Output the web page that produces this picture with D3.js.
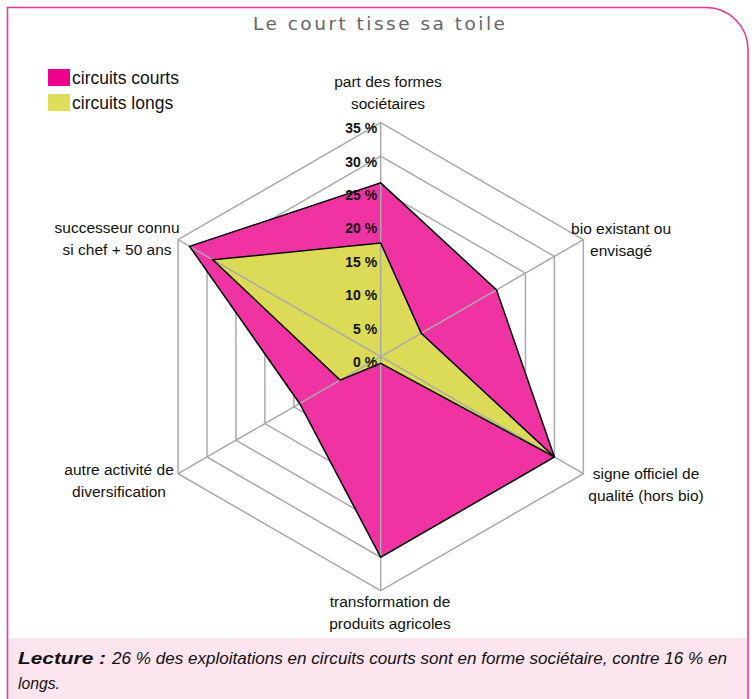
<!DOCTYPE html>
<html><head><meta charset="utf-8">
<script src="https://cdn.jsdelivr.net/npm/d3@7"></script>
<style>html,body{margin:0;padding:0;background:#fff;}svg{display:block;}</style>
</head><body>
<script>
// ---- data ----
const categories = [
  ["part des formes", "sociétaires"],
  ["bio existant ou", "envisagé"],
  ["signe officiel de", "qualité (hors bio)"],
  ["transformation de", "produits agricoles"],
  ["autre activité de", "diversification"],
  ["successeur connu", "si chef + 50 ans"]
];
const seriesNames = ["circuits courts", "circuits longs"];
const circuitsCourts = [26, 20, 30, 30, 14, 33];
const circuitsLongs  = [17, 7, 30, 1, 7, 29];
const tickValues = [0, 5, 10, 15, 20, 25, 30, 35];
const tickLabels = ["0 %", "5 %", "10 %", "15 %", "20 %", "25 %", "30 %", "35 %"];
const titleText = "Le court tisse sa toile";
const lectureBold = "Lecture :";
const lectureLine1 = "26 % des exploitations en circuits courts sont en forme sociétaire, contre 16 % en";
const lectureLine2 = "longs.";

// ---- layout ----
const W = 754, H = 699;
const cx = 380.7, cy = 356.7, R = 234;
const fillColors = ["#F033A3", "#DBDB58"];
const legendColors = ["#EC008C", "#DEDE5C"];
const labelOffsets = [[7.3,-35.4],[37.7,-5.7],[62.7,5.3],[9.3,16],[-59,1.3],[-61,-6.7]];

const svg = d3.select("body").append("svg").attr("width", W).attr("height", H);

// lecture background + frame
svg.append("rect").attr("x", 8.5).attr("y", 638).attr("width", 739).attr("height", 61).attr("fill", "#FCE5EF");
svg.append("path").attr("d", "M7.5,699 V7.5 H706 A42,42 0 0 1 748,49.5 V699")
  .attr("fill", "none").attr("stroke", "#E9359D").attr("stroke-width", 1.6);

// title
svg.append("text").attr("x", 379).attr("y", 30).attr("text-anchor", "middle")
  .attr("font-family", "DejaVu Sans, sans-serif").attr("font-size", 18.5).attr("fill", "#666")
  .attr("textLength", 252).attr("lengthAdjust", "spacing").text(titleText);

const r = d3.scaleLinear().domain([0, 35]).range([0, R]);
const n = categories.length;
const angle = i => i * 2 * Math.PI / n;
const pt = (i, v) => [cx + r(v) * Math.sin(angle(i)), cy - r(v) * Math.cos(angle(i))];
const line = d3.line();

// grid rings (under the fills)
const gRings = svg.append("g").attr("stroke", "#AAAAAA").attr("stroke-width", 1.5).attr("fill", "none");
tickValues.filter(t => t > 0).forEach(t => {
  gRings.append("path").attr("d", line(d3.range(n).map(i => pt(i, t))) + "Z");
});

// fills
const gPoly = svg.append("g");
[circuitsCourts, circuitsLongs].forEach((vals, s) => {
  gPoly.append("path").attr("d", line(vals.map((v, i) => pt(i, v))) + "Z")
    .attr("fill", fillColors[s]).attr("stroke", "none");
});

// spokes (over the fills)
const gSpokes = svg.append("g").attr("stroke", "#AAAAAA").attr("stroke-width", 1.5);
d3.range(n).forEach(i => {
  const [x, y] = pt(i, 35);
  gSpokes.append("line").attr("x1", cx).attr("y1", cy).attr("x2", x).attr("y2", y);
});

// outlines
[circuitsCourts, circuitsLongs].forEach((vals) => {
  svg.append("path").attr("d", line(vals.map((v, i) => pt(i, v))) + "Z")
    .attr("fill", "none").attr("stroke", "#000").attr("stroke-width", 1.5).attr("stroke-linejoin", "miter");
});

// tick labels
const gT = svg.append("g").attr("font-family", "Liberation Sans Narrow, Liberation Sans, Arial, sans-serif")
  .attr("font-weight", "bold").attr("font-size", 14).attr("text-anchor", "end").attr("fill", "#111");
tickValues.forEach((t, k) => {
  gT.append("text").attr("x", cx - 3.5).attr("y", cy - r(t) + 10.5).text(tickLabels[k]);
});

// axis labels
const gL = svg.append("g").attr("font-family", "Liberation Sans, Arial, sans-serif")
  .attr("font-size", 15.5).attr("text-anchor", "middle").attr("fill", "#111");
categories.forEach((lines, i) => {
  const [x, y] = pt(i, 35);
  const [dx, dy] = labelOffsets[i];
  lines.forEach((ln, j) => {
    gL.append("text").attr("x", x + dx).attr("y", y + dy + j * 22).text(ln);
  });
});

// legend
const gLeg = svg.append("g");
seriesNames.forEach((s, k) => {
  gLeg.append("rect").attr("x", 48).attr("y", 69 + k * 25).attr("width", 22).attr("height", 17).attr("fill", legendColors[k]);
  gLeg.append("text").attr("x", 72).attr("y", 83.5 + k * 25)
    .attr("font-family", "Liberation Sans, Arial, sans-serif").attr("font-size", 17.5).attr("fill", "#111").text(s);
});

// lecture
const lf = "Liberation Sans Narrow, Liberation Sans, Arial, sans-serif";
svg.append("text").attr("x", 18).attr("y", 664).attr("font-family", lf)
  .attr("font-size", 17).attr("font-weight", "bold").attr("font-style", "italic").attr("fill", "#111")
  .attr("textLength", 88).attr("lengthAdjust", "spacingAndGlyphs").text(lectureBold);
svg.append("text").attr("x", 112).attr("y", 664).attr("font-family", lf)
  .attr("font-size", 17).attr("font-style", "italic").attr("fill", "#111")
  .attr("textLength", 615).attr("lengthAdjust", "spacingAndGlyphs").text(lectureLine1);
svg.append("text").attr("x", 18).attr("y", 689).attr("font-family", lf)
  .attr("font-size", 17).attr("font-style", "italic").attr("fill", "#111")
  .attr("textLength", 42).attr("lengthAdjust", "spacingAndGlyphs").text(lectureLine2);
</script>
</body></html>
